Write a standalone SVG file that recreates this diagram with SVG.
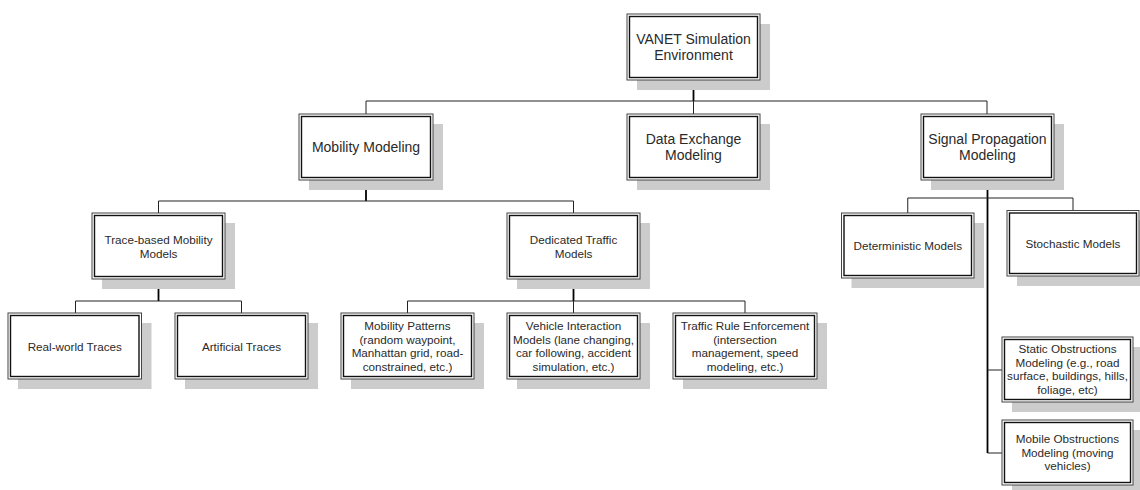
<svg xmlns="http://www.w3.org/2000/svg" width="1140" height="490" viewBox="0 0 1140 490">
<style>
.sh{fill:#cccccc;stroke:none}
.o{fill:#ffffff;stroke:#444444;stroke-width:1}
.i{fill:none;stroke:#111111;stroke-width:1.4}
.t{font-family:"Liberation Sans",Arial,sans-serif;fill:#2a2a2a;text-anchor:middle}
.l{font-size:14px}
.s{font-size:11.7px}
.c{fill:none;stroke:#222222;stroke-width:1}
.ct{fill:none;stroke:#000000;stroke-width:1.8}
</style>
<rect width="1140" height="490" fill="#ffffff"/>
<g id="connectors">
<path class="ct" d="M693.5 80V101"/>
<path class="c" d="M366 114V101H987V114M693.5 101V114"/>
<path class="ct" d="M366 180V201"/>
<path class="c" d="M158.5 213V201H573.5V213"/>
<path class="ct" d="M158.5 279V301"/>
<path class="c" d="M75.5 313V301H241.5V313"/>
<path class="ct" d="M573.5 279V301"/>
<path class="c" d="M407.5 313V301H745V313M573.5 301V313"/>
<path class="ct" d="M987.5 180V453"/>
<path class="c" d="M907.75 213V198H1073V210.5"/>
<path class="c" d="M987.5 370H1002M987.5 453H1002"/>
</g>
<g id="n-vanet">
<rect class="sh" x="637" y="24" width="133" height="66"/>
<rect class="o" x="627" y="14" width="133" height="66"/>
<rect class="i" x="629.5" y="16.5" width="128" height="61"/>
<text class="t l" x="693.5" y="43.5">VANET Simulation<tspan x="693.5" y="60">Environment</tspan></text>
</g>
<g id="n-mobility">
<rect class="sh" x="309" y="124" width="134" height="66"/>
<rect class="o" x="299" y="114" width="134" height="66"/>
<rect class="i" x="301.5" y="116.5" width="129" height="61"/>
<text class="t l" x="366" y="152">Mobility Modeling</text>
</g>
<g id="n-data">
<rect class="sh" x="637" y="124" width="133" height="66"/>
<rect class="o" x="627" y="114" width="133" height="66"/>
<rect class="i" x="629.5" y="116.5" width="128" height="61"/>
<text class="t l" x="693.5" y="143.5">Data Exchange<tspan x="693.5" y="160">Modeling</tspan></text>
</g>
<g id="n-signal">
<rect class="sh" x="931" y="124" width="133" height="66"/>
<rect class="o" x="921" y="114" width="133" height="66"/>
<rect class="i" x="923.5" y="116.5" width="128" height="61"/>
<text class="t l" x="987.5" y="143.5">Signal Propagation<tspan x="987.5" y="160">Modeling</tspan></text>
</g>
<g id="n-trace">
<rect class="sh" x="102" y="223" width="133" height="66"/>
<rect class="o" x="92" y="213" width="133" height="66"/>
<rect class="i" x="94.5" y="215.5" width="128" height="61"/>
<text class="t s" x="158.5" y="244">Trace-based Mobility<tspan x="158.5" y="257.5">Models</tspan></text>
</g>
<g id="n-dedicated">
<rect class="sh" x="517" y="223" width="133" height="66"/>
<rect class="o" x="507" y="213" width="133" height="66"/>
<rect class="i" x="509.5" y="215.5" width="128" height="61"/>
<text class="t s" x="573.5" y="244">Dedicated Traffic<tspan x="573.5" y="257.5">Models</tspan></text>
</g>
<g id="n-realworld">
<rect class="sh" x="18" y="323" width="133.5" height="66"/>
<rect class="o" x="8" y="313" width="133.5" height="66"/>
<rect class="i" x="10.5" y="315.5" width="128.5" height="61"/>
<text class="t s" x="74.75" y="350.5">Real-world Traces</text>
</g>
<g id="n-artificial">
<rect class="sh" x="185" y="323" width="133" height="66"/>
<rect class="o" x="175" y="313" width="133" height="66"/>
<rect class="i" x="177.5" y="315.5" width="128" height="61"/>
<text class="t s" x="241.5" y="350.5">Artificial Traces</text>
</g>
<g id="n-patterns">
<rect class="sh" x="351" y="323" width="133" height="66"/>
<rect class="o" x="341" y="313" width="133" height="66"/>
<rect class="i" x="343.5" y="315.5" width="128" height="61"/>
<text class="t s" x="407.5" y="330.3">Mobility Patterns<tspan x="407.5" y="343.8">(random waypoint,</tspan><tspan x="407.5" y="357.3">Manhattan grid, road-</tspan><tspan x="407.5" y="370.8">constrained, etc.)</tspan></text>
</g>
<g id="n-vehicle">
<rect class="sh" x="517" y="323" width="133" height="66"/>
<rect class="o" x="507" y="313" width="133" height="66"/>
<rect class="i" x="509.5" y="315.5" width="128" height="61"/>
<text class="t s" x="573.5" y="330.3">Vehicle Interaction<tspan x="573.5" y="343.8">Models (lane changing,</tspan><tspan x="573.5" y="357.3">car following, accident</tspan><tspan x="573.5" y="370.8">simulation, etc.)</tspan></text>
</g>
<g id="n-traffic">
<rect class="sh" x="683" y="323" width="144" height="66"/>
<rect class="o" x="673" y="313" width="144" height="66"/>
<rect class="i" x="675.5" y="315.5" width="139" height="61"/>
<text class="t s" x="745" y="330.3">Traffic Rule Enforcement<tspan x="745" y="343.8">(intersection</tspan><tspan x="745" y="357.3">management, speed</tspan><tspan x="745" y="370.8">modeling, etc.)</tspan></text>
</g>
<g id="n-deterministic">
<rect class="sh" x="851.5" y="223" width="132.5" height="65"/>
<rect class="o" x="841.5" y="213" width="132.5" height="65"/>
<rect class="i" x="844" y="215.5" width="127.5" height="60"/>
<text class="t s" x="907.75" y="249.8">Deterministic Models</text>
</g>
<g id="n-stochastic">
<rect class="sh" x="1017" y="220.5" width="132" height="65.5"/>
<rect class="o" x="1007" y="210.5" width="132" height="65.5"/>
<rect class="i" x="1009.5" y="213" width="127" height="60.5"/>
<text class="t s" x="1073" y="247.5">Stochastic Models</text>
</g>
<g id="n-static">
<rect class="sh" x="1012" y="347" width="131" height="65"/>
<rect class="o" x="1002" y="337" width="131" height="65"/>
<rect class="i" x="1004.5" y="339.5" width="126" height="60"/>
<text class="t s" x="1067.5" y="353.3">Static Obstructions<tspan x="1067.5" y="366.8">Modeling (e.g., road</tspan><tspan x="1067.5" y="380.3">surface, buildings, hills,</tspan><tspan x="1067.5" y="393.8">foliage, etc)</tspan></text>
</g>
<g id="n-mobile">
<rect class="sh" x="1012" y="430" width="131" height="65"/>
<rect class="o" x="1002" y="420" width="131" height="65"/>
<rect class="i" x="1004.5" y="422.5" width="126" height="60"/>
<text class="t s" x="1067.5" y="443">Mobile Obstructions<tspan x="1067.5" y="456.5">Modeling (moving</tspan><tspan x="1067.5" y="470">vehicles)</tspan></text>
</g>
</svg>
